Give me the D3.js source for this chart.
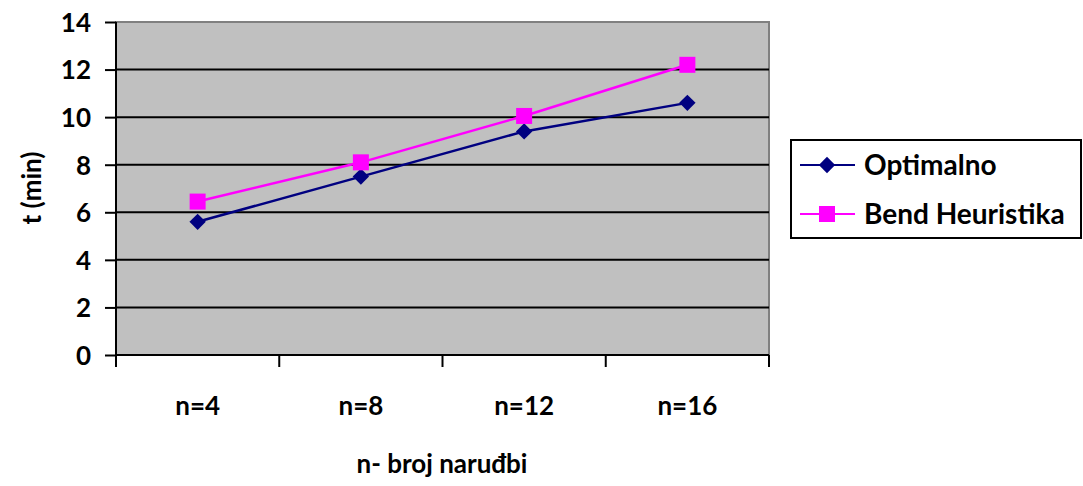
<!DOCTYPE html>
<html>
<head>
<meta charset="utf-8">
<script src="https://cdn.jsdelivr.net/npm/d3@7"></script>
<style>
  body { margin: 0; background: #fff; }
  text { font-family: Lato, "Open Sans", sans-serif; font-weight: bold; fill: #000; }
</style>
</head>
<body>
<div id="chart"></div>
<script>
const categories = ["n=4", "n=8", "n=12", "n=16"];
const optimalno = [5.6, 7.5, 9.4, 10.6];
const bend = [6.45, 8.1, 10.05, 12.2];
const yTicks = [0, 2, 4, 6, 8, 10, 12, 14];
const seriesNames = ["Optimalno", "Bend Heuristika"];

let width = 1083, height = 486;
let plot = {left: 116, top: 22, right: 769, bottom: 355};

let svg = d3.select("#chart").append("svg")
  .attr("width", width)
  .attr("height", height);

let x = d3.scaleBand().domain(categories).range([plot.left, plot.right]);
let y = d3.scaleLinear().domain([0, 14]).range([plot.bottom, plot.top]);

// plot background
svg.append("rect")
  .attr("x", plot.left).attr("y", plot.top)
  .attr("width", plot.right - plot.left).attr("height", plot.bottom - plot.top)
  .attr("fill", "#c0c0c0")
  .attr("stroke", "#808080").attr("stroke-width", 2);

// gridlines
svg.append("g").selectAll("line")
  .data(yTicks.filter(d => d > 0 && d < 14))
  .enter().append("line")
    .attr("x1", plot.left).attr("x2", plot.right)
    .attr("y1", d => y(d)).attr("y2", d => y(d))
    .attr("stroke", "#000").attr("stroke-width", 2);

// y axis
let yAxis = svg.append("g")
  .attr("transform", `translate(${plot.left},0)`)
  .call(d3.axisLeft(y).tickValues(yTicks).tickSize(11).tickPadding(14));
yAxis.selectAll("line, path").attr("stroke", "#000").attr("stroke-width", 2);
yAxis.select(".domain").attr("d", `M0,${plot.top}V${plot.bottom}`);
yAxis.selectAll("text").style("font-size", "26px").attr("dy", "0.36em");
yAxis.attr("font-size", null).attr("font-family", null);

// x axis
let xAxis = svg.append("g")
  .attr("transform", `translate(0,${plot.bottom})`)
  .call(d3.axisBottom(x).tickSize(0).tickPadding(0));
xAxis.attr("font-size", null).attr("font-family", null);
xAxis.select(".domain").attr("stroke", "#000").attr("stroke-width", 2)
  .attr("d", `M${plot.left},0H${plot.right}`);
xAxis.selectAll("text").style("font-size", "26px").attr("y", 60).attr("dy", null);

// category boundary ticks
svg.append("g").selectAll("line")
  .data(categories.concat(["end"]))
  .enter().append("line")
    .attr("x1", (d, i) => i < categories.length ? x(d) : plot.right)
    .attr("x2", (d, i) => i < categories.length ? x(d) : plot.right)
    .attr("y1", plot.bottom).attr("y2", plot.bottom + 12)
    .attr("stroke", "#000").attr("stroke-width", 2);

// axis titles
svg.append("text")
  .attr("x", 442).attr("y", 473)
  .attr("text-anchor", "middle")
  .style("font-size", "26px")
  .text("n- broj naruđbi");

svg.append("text")
  .attr("transform", `translate(41,188) rotate(-90)`)
  .attr("text-anchor", "middle")
  .style("font-size", "26px")
  .text("t (min)");

// series
let cx = d => x(d) + x.bandwidth() / 2;
let line = d3.line().x(d => cx(d.c)).y(d => y(d.v));

let optData = categories.map((c, i) => ({c: c, v: optimalno[i]}));
let bendData = categories.map((c, i) => ({c: c, v: bend[i]}));

svg.append("path").datum(optData)
  .attr("d", line).attr("fill", "none")
  .attr("stroke", "#000080").attr("stroke-width", 2.5);
svg.append("path").datum(bendData)
  .attr("d", line).attr("fill", "none")
  .attr("stroke", "#ff00ff").attr("stroke-width", 2.5);

let diamond = d3.symbol().type(d3.symbolDiamond2).size(170);
svg.append("g").selectAll("path")
  .data(optData).enter().append("path")
    .attr("d", diamond)
    .attr("transform", d => `translate(${cx(d.c)},${y(d.v)})`)
    .attr("fill", "#000080");

svg.append("g").selectAll("rect")
  .data(bendData).enter().append("rect")
    .attr("x", d => cx(d.c) - 8).attr("y", d => y(d.v) - 8)
    .attr("width", 16).attr("height", 16)
    .attr("fill", "#ff00ff");

// legend
let legend = svg.append("g");
legend.append("rect")
  .attr("x", 791).attr("y", 140).attr("width", 290).attr("height", 98)
  .attr("fill", "#fff").attr("stroke", "#000").attr("stroke-width", 2);

let items = legend.selectAll("g.item").data(seriesNames)
  .enter().append("g")
    .attr("class", "item")
    .attr("transform", (d, i) => `translate(0,${165 + i * 49})`);

items.append("line")
  .attr("x1", 800).attr("x2", 855).attr("y1", 0).attr("y2", 0)
  .attr("stroke", (d, i) => i === 0 ? "#000080" : "#ff00ff")
  .attr("stroke-width", 2);

items.filter((d, i) => i === 0).append("path")
  .attr("d", diamond)
  .attr("transform", "translate(827,0)")
  .attr("fill", "#000080");
items.filter((d, i) => i === 1).append("rect")
  .attr("x", 819).attr("y", -8).attr("width", 16).attr("height", 16)
  .attr("fill", "#ff00ff");

items.append("text")
  .attr("x", 864).attr("y", 10)
  .style("font-size", "28px")
  .text(d => d);
</script>
</body>
</html>
